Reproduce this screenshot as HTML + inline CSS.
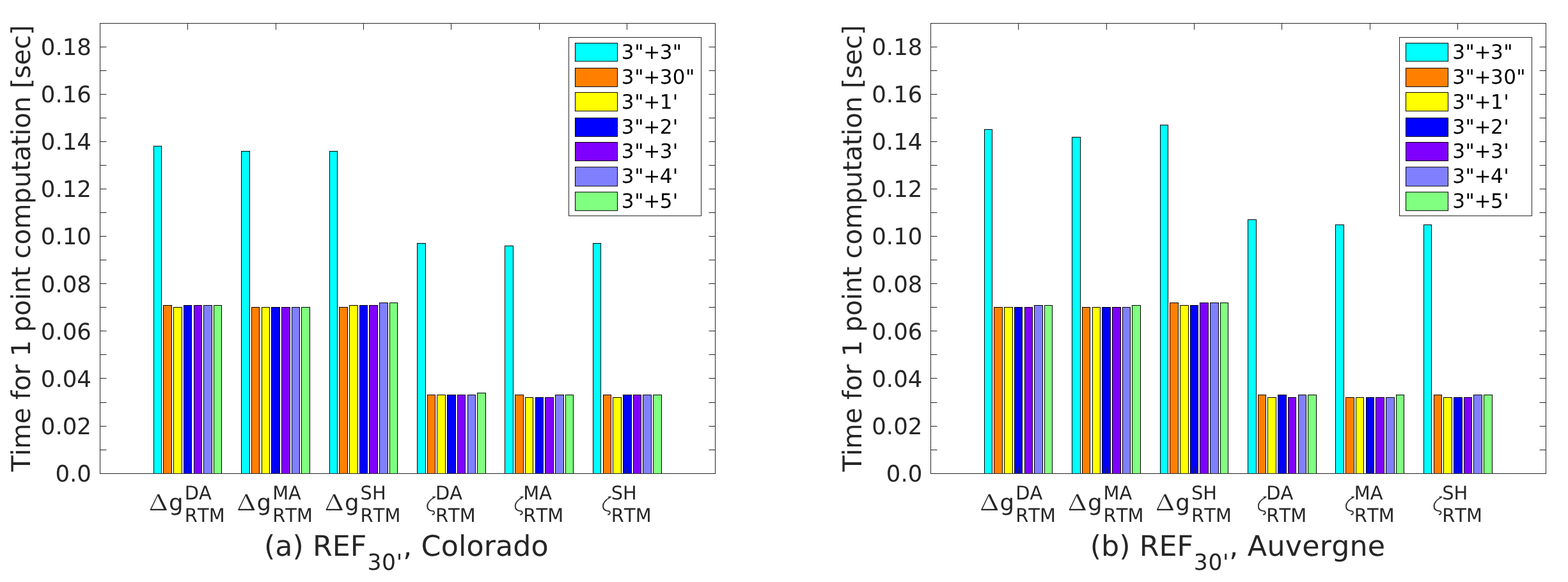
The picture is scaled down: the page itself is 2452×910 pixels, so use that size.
<!DOCTYPE html>
<html lang="en">
<head>
<meta charset="utf-8">
<title>Time for 1 point computation</title>
<style>
html,body{margin:0;padding:0;background:#fff;}
body{width:2452px;height:910px;overflow:hidden;}
svg{display:block;}
text{font-family:"DejaVu Sans","Liberation Sans",sans-serif;fill:#262626;font-kerning:none;font-variant-ligatures:none;text-rendering:geometricPrecision;}
text.sym{font-family:"Liberation Serif","DejaVu Serif",serif;}
text.symd{font-family:"Noto Serif CJK SC","Liberation Serif",serif;}
text.symz{font-family:"DejaVu Sans",sans-serif;font-weight:200;stroke:#262626;stroke-width:0.45px;}
text.leg{fill:#000;}
</style>
</head>
<body>
<svg width="2452" height="910" viewBox="0 0 2452 910">
<defs><clipPath id="zclip"><rect x="10.6" y="-26" width="10" height="6"/><rect x="0" y="-20.4" width="22" height="36"/></clipPath></defs>
<rect x="0" y="0" width="2452" height="910" fill="#fff"/>
<g id="chart-a">
<rect x="240.5" y="228.5" width="12" height="512" fill="#00ffff" stroke="#000" stroke-width="1"/>
<rect x="255.5" y="477.5" width="13" height="263" fill="#ff8000" stroke="#000" stroke-width="1"/>
<rect x="271.5" y="480.5" width="13" height="260" fill="#ffff00" stroke="#000" stroke-width="1"/>
<rect x="287.5" y="477.5" width="12" height="263" fill="#0000ff" stroke="#000" stroke-width="1"/>
<rect x="303.5" y="477.5" width="12" height="263" fill="#8000ff" stroke="#000" stroke-width="1"/>
<rect x="318.5" y="477.5" width="13" height="263" fill="#8080ff" stroke="#000" stroke-width="1"/>
<rect x="334.5" y="477.5" width="12" height="263" fill="#80ff80" stroke="#000" stroke-width="1"/>
<rect x="377.5" y="236.5" width="13" height="504" fill="#00ffff" stroke="#000" stroke-width="1"/>
<rect x="393.5" y="480.5" width="12" height="260" fill="#ff8000" stroke="#000" stroke-width="1"/>
<rect x="409.5" y="480.5" width="12" height="260" fill="#ffff00" stroke="#000" stroke-width="1"/>
<rect x="424.5" y="480.5" width="13" height="260" fill="#0000ff" stroke="#000" stroke-width="1"/>
<rect x="440.5" y="480.5" width="13" height="260" fill="#8000ff" stroke="#000" stroke-width="1"/>
<rect x="456.5" y="480.5" width="12" height="260" fill="#8080ff" stroke="#000" stroke-width="1"/>
<rect x="471.5" y="480.5" width="13" height="260" fill="#80ff80" stroke="#000" stroke-width="1"/>
<rect x="515.5" y="236.5" width="12" height="504" fill="#00ffff" stroke="#000" stroke-width="1"/>
<rect x="530.5" y="480.5" width="13" height="260" fill="#ff8000" stroke="#000" stroke-width="1"/>
<rect x="546.5" y="477.5" width="13" height="263" fill="#ffff00" stroke="#000" stroke-width="1"/>
<rect x="562.5" y="477.5" width="12" height="263" fill="#0000ff" stroke="#000" stroke-width="1"/>
<rect x="577.5" y="477.5" width="13" height="263" fill="#8000ff" stroke="#000" stroke-width="1"/>
<rect x="593.5" y="473.5" width="13" height="267" fill="#8080ff" stroke="#000" stroke-width="1"/>
<rect x="609.5" y="473.5" width="12" height="267" fill="#80ff80" stroke="#000" stroke-width="1"/>
<rect x="652.5" y="380.5" width="13" height="360" fill="#00ffff" stroke="#000" stroke-width="1"/>
<rect x="668.5" y="617.5" width="12" height="123" fill="#ff8000" stroke="#000" stroke-width="1"/>
<rect x="683.5" y="617.5" width="13" height="123" fill="#ffff00" stroke="#000" stroke-width="1"/>
<rect x="699.5" y="617.5" width="13" height="123" fill="#0000ff" stroke="#000" stroke-width="1"/>
<rect x="715.5" y="617.5" width="12" height="123" fill="#8000ff" stroke="#000" stroke-width="1"/>
<rect x="731.5" y="617.5" width="12" height="123" fill="#8080ff" stroke="#000" stroke-width="1"/>
<rect x="746.5" y="614.5" width="13" height="126" fill="#80ff80" stroke="#000" stroke-width="1"/>
<rect x="789.5" y="384.5" width="13" height="356" fill="#00ffff" stroke="#000" stroke-width="1"/>
<rect x="805.5" y="617.5" width="13" height="123" fill="#ff8000" stroke="#000" stroke-width="1"/>
<rect x="821.5" y="621.5" width="12" height="119" fill="#ffff00" stroke="#000" stroke-width="1"/>
<rect x="837.5" y="621.5" width="12" height="119" fill="#0000ff" stroke="#000" stroke-width="1"/>
<rect x="852.5" y="621.5" width="13" height="119" fill="#8000ff" stroke="#000" stroke-width="1"/>
<rect x="868.5" y="617.5" width="13" height="123" fill="#8080ff" stroke="#000" stroke-width="1"/>
<rect x="884.5" y="617.5" width="12" height="123" fill="#80ff80" stroke="#000" stroke-width="1"/>
<rect x="927.5" y="380.5" width="12" height="360" fill="#00ffff" stroke="#000" stroke-width="1"/>
<rect x="943.5" y="617.5" width="12" height="123" fill="#ff8000" stroke="#000" stroke-width="1"/>
<rect x="958.5" y="621.5" width="13" height="119" fill="#ffff00" stroke="#000" stroke-width="1"/>
<rect x="974.5" y="617.5" width="13" height="123" fill="#0000ff" stroke="#000" stroke-width="1"/>
<rect x="990.5" y="617.5" width="12" height="123" fill="#8000ff" stroke="#000" stroke-width="1"/>
<rect x="1005.5" y="617.5" width="13" height="123" fill="#8080ff" stroke="#000" stroke-width="1"/>
<rect x="1021.5" y="617.5" width="13" height="123" fill="#80ff80" stroke="#000" stroke-width="1"/>
<path d="M293.5 740.5v-10M293.5 36.5v10M431.5 740.5v-10M431.5 36.5v10M568.5 740.5v-10M568.5 36.5v10M705.5 740.5v-10M705.5 36.5v10M843.5 740.5v-10M843.5 36.5v10M980.5 740.5v-10M980.5 36.5v10M156.5 703.5h10M1118.5 703.5h-10M156.5 666.5h10M1118.5 666.5h-10M156.5 629.5h10M1118.5 629.5h-10M156.5 591.5h10M1118.5 591.5h-10M156.5 554.5h10M1118.5 554.5h-10M156.5 517.5h10M1118.5 517.5h-10M156.5 480.5h10M1118.5 480.5h-10M156.5 443.5h10M1118.5 443.5h-10M156.5 406.5h10M1118.5 406.5h-10M156.5 369.5h10M1118.5 369.5h-10M156.5 332.5h10M1118.5 332.5h-10M156.5 295.5h10M1118.5 295.5h-10M156.5 258.5h10M1118.5 258.5h-10M156.5 221.5h10M1118.5 221.5h-10M156.5 184.5h10M1118.5 184.5h-10M156.5 147.5h10M1118.5 147.5h-10M156.5 110.5h10M1118.5 110.5h-10M156.5 73.5h10M1118.5 73.5h-10" stroke="#262626" stroke-width="1" fill="none"/>
<rect x="156.5" y="36.5" width="962" height="704" fill="none" stroke="#262626" stroke-width="1"/>
<rect x="889.5" y="58.5" width="207" height="279" fill="#fff" stroke="#262626" stroke-width="1"/>
<rect x="899.5" y="67.4" width="66" height="28.5" fill="#00ffff" stroke="#000" stroke-width="1"/>
<rect x="899.5" y="106.5" width="66" height="29.1" fill="#ff8000" stroke="#000" stroke-width="1"/>
<rect x="899.5" y="144.6" width="66" height="29.1" fill="#ffff00" stroke="#000" stroke-width="1"/>
<rect x="899.5" y="184.4" width="66" height="29" fill="#0000ff" stroke="#000" stroke-width="1"/>
<rect x="899.5" y="222.5" width="66" height="29" fill="#8000ff" stroke="#000" stroke-width="1"/>
<rect x="899.5" y="261.2" width="66" height="29.8" fill="#8080ff" stroke="#000" stroke-width="1"/>
<rect x="899.5" y="300.3" width="66" height="29" fill="#80ff80" stroke="#000" stroke-width="1"/>
<g transform="translate(0 0)">
<text x="143" y="753" text-anchor="end" font-size="35.6">0.0</text>
<text x="143" y="678.89" text-anchor="end" font-size="35.6">0.02</text>
<text x="143" y="604.79" text-anchor="end" font-size="35.6">0.04</text>
<text x="143" y="530.68" text-anchor="end" font-size="35.6">0.06</text>
<text x="143" y="456.58" text-anchor="end" font-size="35.6">0.08</text>
<text x="143" y="382.47" text-anchor="end" font-size="35.6">0.10</text>
<text x="143" y="308.37" text-anchor="end" font-size="35.6">0.12</text>
<text x="143" y="234.26" text-anchor="end" font-size="35.6">0.14</text>
<text x="143" y="160.16" text-anchor="end" font-size="35.6">0.16</text>
<text x="143" y="86.05" text-anchor="end" font-size="35.6">0.18</text>
<text transform="translate(47.3 737.2) rotate(-90)" font-size="40.6" letter-spacing="-0.27">Time for 1 point computation [sec]</text>
<text class="symd" transform="translate(232.83 797.6) scale(1.27 1)" font-size="34.5">Δ</text>
<text x="264.08" y="797.6" font-size="35.5">g</text>
<text transform="translate(288.73 781) scale(1 1.023)" font-size="28.9">DA</text>
<text transform="translate(288.73 816) scale(1 1.023)" font-size="28.9" letter-spacing="0.1">RTM</text>
<text class="symd" transform="translate(370.26 797.6) scale(1.27 1)" font-size="34.5">Δ</text>
<text x="401.51" y="797.6" font-size="35.5">g</text>
<text transform="translate(426.16 781) scale(1 1.023)" font-size="28.9">MA</text>
<text transform="translate(426.16 816) scale(1 1.023)" font-size="28.9" letter-spacing="0.1">RTM</text>
<text class="symd" transform="translate(507.69 797.6) scale(1.27 1)" font-size="34.5">Δ</text>
<text x="538.94" y="797.6" font-size="35.5">g</text>
<text transform="translate(563.59 781) scale(1 1.023)" font-size="28.9">SH</text>
<text transform="translate(563.59 816) scale(1 1.023)" font-size="28.9" letter-spacing="0.1">RTM</text>
<text class="symz" clip-path="url(#zclip)" transform="translate(665.51 798.6) scale(1.03 1)" font-size="29.7">ζ</text>
<text transform="translate(680.91 781) scale(1 1.023)" font-size="28.9">DA</text>
<text transform="translate(680.91 816) scale(1 1.023)" font-size="28.9" letter-spacing="0.1">RTM</text>
<text class="symz" clip-path="url(#zclip)" transform="translate(802.94 798.6) scale(1.03 1)" font-size="29.7">ζ</text>
<text transform="translate(818.34 781) scale(1 1.023)" font-size="28.9">MA</text>
<text transform="translate(818.34 816) scale(1 1.023)" font-size="28.9" letter-spacing="0.1">RTM</text>
<text class="symz" clip-path="url(#zclip)" transform="translate(940.37 798.6) scale(1.03 1)" font-size="29.7">ζ</text>
<text transform="translate(955.77 781) scale(1 1.023)" font-size="28.9">SH</text>
<text transform="translate(955.77 816) scale(1 1.023)" font-size="28.9" letter-spacing="0.1">RTM</text>
<text y="869" font-size="44.4"><tspan x="413">(a) REF</tspan><tspan x="574.4" y="891" font-size="34.6" letter-spacing="0.65">30'</tspan><tspan x="630.2" y="869" letter-spacing="0.1">, Colorado</tspan></text>
<text class="leg" x="971.8 992.2 1006.2 1031.7 1051.85" y="92" font-size="31.1">3&quot;+3&quot;</text>
<text class="leg" x="971.8 992.2 1006.2 1031.7 1051.85 1071.9" y="130.87" font-size="31.1">3&quot;+30&quot;</text>
<text class="leg" x="971.8 992.2 1006.2 1031.7 1051.85" y="169.74" font-size="31.1">3&quot;+1'</text>
<text class="leg" x="971.8 992.2 1006.2 1031.7 1051.85" y="208.61" font-size="31.1">3&quot;+2'</text>
<text class="leg" x="971.8 992.2 1006.2 1031.7 1051.85" y="247.48" font-size="31.1">3&quot;+3'</text>
<text class="leg" x="971.8 992.2 1006.2 1031.7 1051.85" y="286.35" font-size="31.1">3&quot;+4'</text>
<text class="leg" x="971.8 992.2 1006.2 1031.7 1051.85" y="325.22" font-size="31.1">3&quot;+5'</text>
</g>
</g>
<g id="chart-b" transform="translate(1299 0)">
<rect x="240.5" y="202.5" width="12" height="538" fill="#00ffff" stroke="#000" stroke-width="1"/>
<rect x="255.5" y="480.5" width="13" height="260" fill="#ff8000" stroke="#000" stroke-width="1"/>
<rect x="271.5" y="480.5" width="13" height="260" fill="#ffff00" stroke="#000" stroke-width="1"/>
<rect x="287.5" y="480.5" width="12" height="260" fill="#0000ff" stroke="#000" stroke-width="1"/>
<rect x="303.5" y="480.5" width="12" height="260" fill="#8000ff" stroke="#000" stroke-width="1"/>
<rect x="318.5" y="477.5" width="13" height="263" fill="#8080ff" stroke="#000" stroke-width="1"/>
<rect x="334.5" y="477.5" width="12" height="263" fill="#80ff80" stroke="#000" stroke-width="1"/>
<rect x="377.5" y="214.5" width="13" height="526" fill="#00ffff" stroke="#000" stroke-width="1"/>
<rect x="393.5" y="480.5" width="12" height="260" fill="#ff8000" stroke="#000" stroke-width="1"/>
<rect x="409.5" y="480.5" width="12" height="260" fill="#ffff00" stroke="#000" stroke-width="1"/>
<rect x="424.5" y="480.5" width="13" height="260" fill="#0000ff" stroke="#000" stroke-width="1"/>
<rect x="440.5" y="480.5" width="13" height="260" fill="#8000ff" stroke="#000" stroke-width="1"/>
<rect x="456.5" y="480.5" width="12" height="260" fill="#8080ff" stroke="#000" stroke-width="1"/>
<rect x="471.5" y="477.5" width="13" height="263" fill="#80ff80" stroke="#000" stroke-width="1"/>
<rect x="515.5" y="195.5" width="12" height="545" fill="#00ffff" stroke="#000" stroke-width="1"/>
<rect x="530.5" y="473.5" width="13" height="267" fill="#ff8000" stroke="#000" stroke-width="1"/>
<rect x="546.5" y="477.5" width="13" height="263" fill="#ffff00" stroke="#000" stroke-width="1"/>
<rect x="562.5" y="477.5" width="12" height="263" fill="#0000ff" stroke="#000" stroke-width="1"/>
<rect x="577.5" y="473.5" width="13" height="267" fill="#8000ff" stroke="#000" stroke-width="1"/>
<rect x="593.5" y="473.5" width="13" height="267" fill="#8080ff" stroke="#000" stroke-width="1"/>
<rect x="609.5" y="473.5" width="12" height="267" fill="#80ff80" stroke="#000" stroke-width="1"/>
<rect x="652.5" y="343.5" width="13" height="397" fill="#00ffff" stroke="#000" stroke-width="1"/>
<rect x="668.5" y="617.5" width="12" height="123" fill="#ff8000" stroke="#000" stroke-width="1"/>
<rect x="683.5" y="621.5" width="13" height="119" fill="#ffff00" stroke="#000" stroke-width="1"/>
<rect x="699.5" y="617.5" width="13" height="123" fill="#0000ff" stroke="#000" stroke-width="1"/>
<rect x="715.5" y="621.5" width="12" height="119" fill="#8000ff" stroke="#000" stroke-width="1"/>
<rect x="731.5" y="617.5" width="12" height="123" fill="#8080ff" stroke="#000" stroke-width="1"/>
<rect x="746.5" y="617.5" width="13" height="123" fill="#80ff80" stroke="#000" stroke-width="1"/>
<rect x="789.5" y="351.5" width="13" height="389" fill="#00ffff" stroke="#000" stroke-width="1"/>
<rect x="805.5" y="621.5" width="13" height="119" fill="#ff8000" stroke="#000" stroke-width="1"/>
<rect x="821.5" y="621.5" width="12" height="119" fill="#ffff00" stroke="#000" stroke-width="1"/>
<rect x="837.5" y="621.5" width="12" height="119" fill="#0000ff" stroke="#000" stroke-width="1"/>
<rect x="852.5" y="621.5" width="13" height="119" fill="#8000ff" stroke="#000" stroke-width="1"/>
<rect x="868.5" y="621.5" width="13" height="119" fill="#8080ff" stroke="#000" stroke-width="1"/>
<rect x="884.5" y="617.5" width="12" height="123" fill="#80ff80" stroke="#000" stroke-width="1"/>
<rect x="927.5" y="351.5" width="12" height="389" fill="#00ffff" stroke="#000" stroke-width="1"/>
<rect x="943.5" y="617.5" width="12" height="123" fill="#ff8000" stroke="#000" stroke-width="1"/>
<rect x="958.5" y="621.5" width="13" height="119" fill="#ffff00" stroke="#000" stroke-width="1"/>
<rect x="974.5" y="621.5" width="13" height="119" fill="#0000ff" stroke="#000" stroke-width="1"/>
<rect x="990.5" y="621.5" width="12" height="119" fill="#8000ff" stroke="#000" stroke-width="1"/>
<rect x="1005.5" y="617.5" width="13" height="123" fill="#8080ff" stroke="#000" stroke-width="1"/>
<rect x="1021.5" y="617.5" width="13" height="123" fill="#80ff80" stroke="#000" stroke-width="1"/>
<path d="M293.5 740.5v-10M293.5 36.5v10M431.5 740.5v-10M431.5 36.5v10M568.5 740.5v-10M568.5 36.5v10M705.5 740.5v-10M705.5 36.5v10M843.5 740.5v-10M843.5 36.5v10M980.5 740.5v-10M980.5 36.5v10M156.5 703.5h10M1118.5 703.5h-10M156.5 666.5h10M1118.5 666.5h-10M156.5 629.5h10M1118.5 629.5h-10M156.5 591.5h10M1118.5 591.5h-10M156.5 554.5h10M1118.5 554.5h-10M156.5 517.5h10M1118.5 517.5h-10M156.5 480.5h10M1118.5 480.5h-10M156.5 443.5h10M1118.5 443.5h-10M156.5 406.5h10M1118.5 406.5h-10M156.5 369.5h10M1118.5 369.5h-10M156.5 332.5h10M1118.5 332.5h-10M156.5 295.5h10M1118.5 295.5h-10M156.5 258.5h10M1118.5 258.5h-10M156.5 221.5h10M1118.5 221.5h-10M156.5 184.5h10M1118.5 184.5h-10M156.5 147.5h10M1118.5 147.5h-10M156.5 110.5h10M1118.5 110.5h-10M156.5 73.5h10M1118.5 73.5h-10" stroke="#262626" stroke-width="1" fill="none"/>
<rect x="156.5" y="36.5" width="962" height="704" fill="none" stroke="#262626" stroke-width="1"/>
<rect x="889.5" y="58.5" width="207" height="279" fill="#fff" stroke="#262626" stroke-width="1"/>
<rect x="899.5" y="67.4" width="66" height="28.5" fill="#00ffff" stroke="#000" stroke-width="1"/>
<rect x="899.5" y="106.5" width="66" height="29.1" fill="#ff8000" stroke="#000" stroke-width="1"/>
<rect x="899.5" y="144.6" width="66" height="29.1" fill="#ffff00" stroke="#000" stroke-width="1"/>
<rect x="899.5" y="184.4" width="66" height="29" fill="#0000ff" stroke="#000" stroke-width="1"/>
<rect x="899.5" y="222.5" width="66" height="29" fill="#8000ff" stroke="#000" stroke-width="1"/>
<rect x="899.5" y="261.2" width="66" height="29.8" fill="#8080ff" stroke="#000" stroke-width="1"/>
<rect x="899.5" y="300.3" width="66" height="29" fill="#80ff80" stroke="#000" stroke-width="1"/>
<g transform="translate(0.4 0)">
<text x="143" y="753" text-anchor="end" font-size="35.6">0.0</text>
<text x="143" y="678.89" text-anchor="end" font-size="35.6">0.02</text>
<text x="143" y="604.79" text-anchor="end" font-size="35.6">0.04</text>
<text x="143" y="530.68" text-anchor="end" font-size="35.6">0.06</text>
<text x="143" y="456.58" text-anchor="end" font-size="35.6">0.08</text>
<text x="143" y="382.47" text-anchor="end" font-size="35.6">0.10</text>
<text x="143" y="308.37" text-anchor="end" font-size="35.6">0.12</text>
<text x="143" y="234.26" text-anchor="end" font-size="35.6">0.14</text>
<text x="143" y="160.16" text-anchor="end" font-size="35.6">0.16</text>
<text x="143" y="86.05" text-anchor="end" font-size="35.6">0.18</text>
<text transform="translate(47.3 737.2) rotate(-90)" font-size="40.6" letter-spacing="-0.27">Time for 1 point computation [sec]</text>
<text class="symd" transform="translate(232.83 797.6) scale(1.27 1)" font-size="34.5">Δ</text>
<text x="264.08" y="797.6" font-size="35.5">g</text>
<text transform="translate(288.73 781) scale(1 1.023)" font-size="28.9">DA</text>
<text transform="translate(288.73 816) scale(1 1.023)" font-size="28.9" letter-spacing="0.1">RTM</text>
<text class="symd" transform="translate(370.26 797.6) scale(1.27 1)" font-size="34.5">Δ</text>
<text x="401.51" y="797.6" font-size="35.5">g</text>
<text transform="translate(426.16 781) scale(1 1.023)" font-size="28.9">MA</text>
<text transform="translate(426.16 816) scale(1 1.023)" font-size="28.9" letter-spacing="0.1">RTM</text>
<text class="symd" transform="translate(507.69 797.6) scale(1.27 1)" font-size="34.5">Δ</text>
<text x="538.94" y="797.6" font-size="35.5">g</text>
<text transform="translate(563.59 781) scale(1 1.023)" font-size="28.9">SH</text>
<text transform="translate(563.59 816) scale(1 1.023)" font-size="28.9" letter-spacing="0.1">RTM</text>
<text class="symz" clip-path="url(#zclip)" transform="translate(665.51 798.6) scale(1.03 1)" font-size="29.7">ζ</text>
<text transform="translate(680.91 781) scale(1 1.023)" font-size="28.9">DA</text>
<text transform="translate(680.91 816) scale(1 1.023)" font-size="28.9" letter-spacing="0.1">RTM</text>
<text class="symz" clip-path="url(#zclip)" transform="translate(802.94 798.6) scale(1.03 1)" font-size="29.7">ζ</text>
<text transform="translate(818.34 781) scale(1 1.023)" font-size="28.9">MA</text>
<text transform="translate(818.34 816) scale(1 1.023)" font-size="28.9" letter-spacing="0.1">RTM</text>
<text class="symz" clip-path="url(#zclip)" transform="translate(940.37 798.6) scale(1.03 1)" font-size="29.7">ζ</text>
<text transform="translate(955.77 781) scale(1 1.023)" font-size="28.9">SH</text>
<text transform="translate(955.77 816) scale(1 1.023)" font-size="28.9" letter-spacing="0.1">RTM</text>
<text y="869" font-size="44.4"><tspan x="405.4">(b) REF</tspan><tspan x="567.4" y="891" font-size="34.6" letter-spacing="0.65">30'</tspan><tspan x="622.8" y="869" letter-spacing="0.2">, Auvergne</tspan></text>
<text class="leg" x="971.8 992.2 1006.2 1031.7 1051.85" y="92" font-size="31.1">3&quot;+3&quot;</text>
<text class="leg" x="971.8 992.2 1006.2 1031.7 1051.85 1071.9" y="130.87" font-size="31.1">3&quot;+30&quot;</text>
<text class="leg" x="971.8 992.2 1006.2 1031.7 1051.85" y="169.74" font-size="31.1">3&quot;+1'</text>
<text class="leg" x="971.8 992.2 1006.2 1031.7 1051.85" y="208.61" font-size="31.1">3&quot;+2'</text>
<text class="leg" x="971.8 992.2 1006.2 1031.7 1051.85" y="247.48" font-size="31.1">3&quot;+3'</text>
<text class="leg" x="971.8 992.2 1006.2 1031.7 1051.85" y="286.35" font-size="31.1">3&quot;+4'</text>
<text class="leg" x="971.8 992.2 1006.2 1031.7 1051.85" y="325.22" font-size="31.1">3&quot;+5'</text>
</g>
</g>
</svg>
</body>
</html>
